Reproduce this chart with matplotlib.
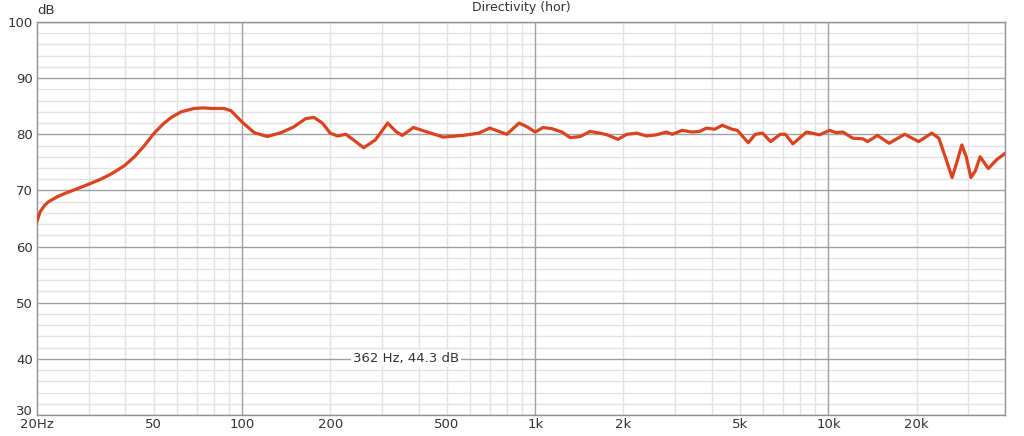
import matplotlib
matplotlib.use("Agg")
import matplotlib.pyplot as plt
from matplotlib.ticker import FixedLocator, NullFormatter
import numpy as np

# response (Hz, dB)
freq = [20, 20.5, 21.2, 21.9, 23.5, 25, 26.8, 30, 33, 36, 39.7, 43, 46.5,
        50.2, 54, 57.4, 62, 68.7, 74, 78.6, 83, 86.8, 91.7, 100, 110, 122,
        136, 150, 165, 176, 188, 200, 212, 226, 240, 260, 285, 314, 335, 352,
        384, 429, 485, 568, 641, 700, 800, 881, 940, 1000, 1064, 1140, 1234,
        1316, 1425, 1537, 1666, 1760, 1916, 2053, 2219, 2398, 2591, 2800,
        2935, 3170, 3426, 3630, 3840, 4096, 4340, 4690, 4890, 5330, 5630,
        5960, 6350, 6850, 7130, 7560, 8420, 9330, 10080, 10620, 11200,
        12100, 13100, 13600, 14700, 16100, 18200, 20300, 22500, 23800,
        25200, 26400, 27400, 28500, 29500, 30600, 31700, 32900, 35100,
        37500, 40000]
spl = [64.5, 66.2, 67.3, 68.0, 68.9, 69.5, 70.1, 71.1, 72.0, 73.0, 74.4, 76.0,
       78.0, 80.2, 81.9, 83.0, 84.0, 84.6, 84.7, 84.6, 84.6, 84.6, 84.2, 82.2,
       80.3, 79.6, 80.3, 81.3, 82.8, 83.0, 82.0, 80.2, 79.7, 80.0, 79.0, 77.6,
       79.0, 82.0, 80.5, 79.8, 81.2, 80.4, 79.5, 79.8, 80.2, 81.1, 80.0, 82.0,
       81.3, 80.4, 81.2, 81.0, 80.4, 79.4, 79.6, 80.5, 80.2, 79.9, 79.1, 80.0,
       80.2, 79.7, 79.9, 80.4, 80.0, 80.7, 80.4, 80.5, 81.1, 80.9, 81.6, 80.9,
       80.7, 78.5, 80.0, 80.2, 78.7, 80.0, 80.0, 78.3, 80.4, 79.9, 80.7, 80.3,
       80.4, 79.3, 79.2, 78.7, 79.8, 78.4, 80.0, 78.7, 80.2, 79.3, 75.5, 72.3,
       75.0, 78.1, 76.0, 72.3, 73.5, 76.0, 73.9, 75.5, 76.6]

x_major = [20, 50, 100, 200, 500, 1000, 2000, 5000, 10000, 20000]
x_labels = ["20Hz", "50", "100", "200", "500", "1k", "2k", "5k", "10k", "20k"]
y_major = [30, 40, 50, 60, 70, 80, 90, 100]

minor_x = []
for dec in [10, 100, 1000, 10000]:
    for m in range(2, 10):
        if 20 < m * dec < 40000:
            minor_x.append(m * dec)

fig = plt.figure(figsize=(10.24, 4.36), dpi=100)
ax = fig.add_axes([37 / 1024, 1 - 415 / 436, (1005 - 37) / 1024, (415 - 22) / 436])

ax.set_xscale("log")
ax.set_xlim(20, 40000)
ax.set_ylim(30, 100)

# light grid
for f in minor_x:
    ax.axvline(f, color="#e2e2e2", lw=1, zorder=0)
for d in range(30, 101, 2):
    if d % 10:
        ax.axhline(d, color="#e2e2e2", lw=1, zorder=0)
# darker grid
for f in [100, 1000, 10000]:
    ax.axvline(f, color="#a0a0a0", lw=1, zorder=1)
for d in y_major:
    ax.axhline(d, color="#a0a0a0", lw=1, zorder=1)

ax.plot(freq, spl, color="#db421e", lw=2.3, zorder=3, solid_joinstyle="round")

ax.xaxis.set_major_locator(FixedLocator(x_major))
ax.xaxis.set_minor_locator(FixedLocator(minor_x))
ax.xaxis.set_minor_formatter(NullFormatter())
ax.set_xticklabels(x_labels)
ax.set_yticks(y_major)
ax.tick_params(axis="both", which="both", length=0, labelsize=9.5, colors="#333333")
ax.tick_params(axis="x", pad=2)
ax.tick_params(axis="y", pad=3)
ax.get_yticklabels()[0].set_verticalalignment("baseline")

for s in ax.spines.values():
    s.set_color("#909090")
    s.set_linewidth(1)

ax.text(0.0, 1.012, "dB", transform=ax.transAxes, fontsize=9.5, color="#333333",
        ha="left", va="bottom")
fig.text(521 / 1024, 1 - 8 / 436, "Directivity (hor)", fontsize=9, color="#333333",
         ha="center", va="center")
ax.text(362, 40, "362 Hz, 44.3 dB", fontsize=9.5, color="#333333", ha="center",
        va="center", zorder=4,
        bbox=dict(facecolor="white", edgecolor="none", pad=1.5))

fig.savefig("out.png", dpi=100)
